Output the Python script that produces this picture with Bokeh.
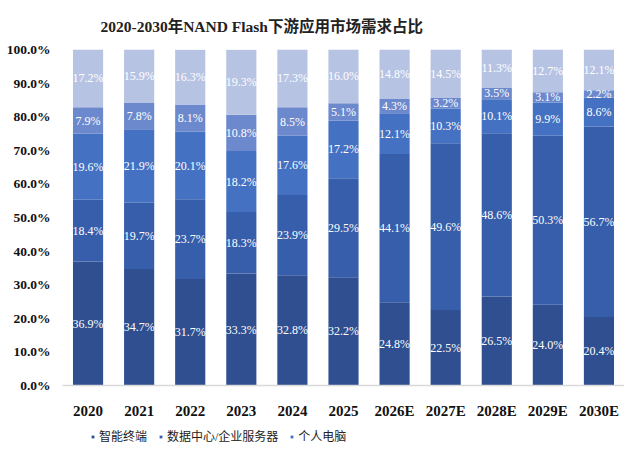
from bokeh.plotting import figure
from bokeh.layouts import column
from bokeh.models import ColumnDataSource, Legend, LegendItem, NumeralTickFormatter, Range1d, FactorRange, LabelSet, FixedTicker
from bokeh.embed import file_html
from bokeh.resources import INLINE

years = ["2020", "2021", "2022", "2023", "2024", "2025", "2026E", "2027E", "2028E", "2029E", "2030E"]
series_names = ["智能终端", "数据中心/企业服务器", "个人电脑", "其他应用A", "其他应用B"]
s1 = [36.9, 34.7, 31.7, 33.3, 32.8, 32.2, 24.8, 22.5, 26.5, 24.0, 20.4]
s2 = [18.4, 19.7, 23.7, 18.3, 23.9, 29.5, 44.1, 49.6, 48.6, 50.3, 56.7]
s3 = [19.6, 21.9, 20.1, 18.2, 17.6, 17.2, 12.1, 10.3, 10.1, 9.9, 8.6]
s4 = [7.9, 7.8, 8.1, 10.8, 8.5, 5.1, 4.3, 3.2, 3.5, 3.1, 2.2]
s5 = [17.2, 15.9, 16.3, 19.3, 17.3, 16.0, 14.8, 14.5, 11.3, 12.7, 12.1]
colors = ["#2F4F90", "#365EAA", "#4471C2", "#6C89CD", "#B7C3E3"]

serif = "Liberation Serif, Noto Sans CJK SC, serif"

series = [s1, s2, s3, s4, s5]
keys = ["s1", "s2", "s3", "s4", "s5"]
data = {"year": years}
for k, s in zip(keys, series):
    data[k] = [v / 100.0 for v in s]
src = ColumnDataSource(data)

p = figure(x_range=FactorRange(*years, range_padding=0), y_range=Range1d(0, 1),
           width=624, height=421, output_backend="svg", toolbar_location=None,
           min_border_left=62, min_border_right=0, min_border_top=48, min_border_bottom=34)
p.title.text = "2020-2030年NAND Flash下游应用市场需求占比"
p.title.align = "left"
p.title.text_font = serif
p.title.text_font_size = "15.5px"
p.title.text_font_style = "bold"
p.title.text_color = "#222222"
p.title.offset = 38
p.title.standoff = 30

rs = p.vbar_stack(keys, x="year", width=0.59, color=colors, source=src, line_color=None)

# labels
lx, ly, lt = [], [], []
for i, y in enumerate(years):
    base = 0.0
    for s in series:
        v = s[i] / 100.0
        lx.append(y)
        ly.append(base + v / 2)
        lt.append("%.1f%%" % s[i])
        base += v
lsrc = ColumnDataSource(dict(x=lx, y=ly, t=lt))
p.add_layout(LabelSet(x="x", y="y", text="t", source=lsrc, text_align="center", text_baseline="middle",
                      text_color="white", text_font_size="12px", text_font=serif))

p.xgrid.visible = False
p.ygrid.visible = False
p.outline_line_color = None

p.yaxis.ticker = FixedTicker(ticks=[i / 10 for i in range(11)])
p.yaxis.formatter = NumeralTickFormatter(format="0.0%")
p.yaxis.axis_line_color = None
p.yaxis.major_tick_line_color = None
p.yaxis.minor_tick_line_color = None
p.yaxis.major_label_text_font = serif
p.yaxis.major_label_text_font_style = "bold"
p.yaxis.major_label_text_font_size = "13.5px"
p.yaxis.major_label_text_color = "#111111"
p.yaxis.major_label_standoff = 6

p.xaxis.axis_line_color = "#d9d9d9"
p.xaxis.axis_line_width = 1.5
p.xaxis.major_tick_line_color = None
p.xaxis.minor_tick_line_color = None
p.xaxis.major_label_text_font = serif
p.xaxis.major_label_text_font_style = "bold"
p.xaxis.major_label_text_font_size = "15px"
p.xaxis.major_label_text_color = "#111111"
p.xaxis.major_label_standoff = 11

# legend strip below the chart (legend swatches reuse the series colours)
p2 = figure(width=624, height=24, x_range=Range1d(0, 1), y_range=Range1d(0, 1),
            output_backend="svg", toolbar_location=None, min_border=0,
            x_axis_type=None, y_axis_type=None)
p2.outline_line_color = None
p2.xgrid.visible = False
p2.ygrid.visible = False
offscreen = ColumnDataSource(dict(x=[5.0], y=[5.0]))
dummies = [p2.scatter(x="x", y="y", marker="square", size=7, source=offscreen,
                      fill_color=colors[i], line_color=None)
           for i in range(3)]
legend = Legend(items=[LegendItem(label=series_names[i], renderers=[dummies[i]]) for i in range(3)],
                orientation="horizontal", location=(27, 0), border_line_color=None,
                background_fill_alpha=0, label_text_font=serif, label_text_font_size="12px",
                label_text_color="#222222", glyph_width=7, glyph_height=7, spacing=10,
                label_standoff=3, padding=0, margin=0)
p2.add_layout(legend, "center")

layout = column(p, p2, spacing=0)
open("out.html", "w").write(file_html(layout, INLINE))
